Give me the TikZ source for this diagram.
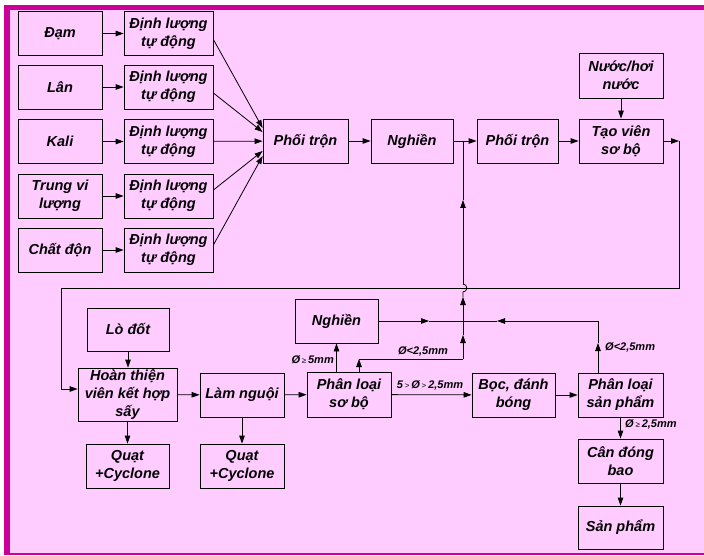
\documentclass[tikz,border=0pt]{standalone}
\usepackage{fontspec}
\setmainfont{Liberation Sans}
\usetikzlibrary{arrows.meta}

\definecolor{nenhong}{RGB}{255,204,255}
\definecolor{vienhong}{RGB}{204,0,153}
\newcommand{\nhoso}[1]{{\fontsize{8}{9}\selectfont\mdseries\upshape #1}}

\begin{document}
\begin{tikzpicture}[x=1pt,y=-1pt,
                box/.style={draw,line width=0.8pt,inner sep=0pt,align=center,
                    minimum width=84pt,minimum height=44pt,
                    font=\fontsize{14.5}{18}\selectfont\bfseries\itshape},
                lbl/.style={inner sep=0pt,font=\fontsize{11}{13}\selectfont\bfseries\itshape},
                arr/.style={line width=0.8pt,-{Triangle[length=8pt,width=5.5pt]}},
                line/.style={line width=0.8pt}
                ]
            % nen va khung
            \useasboundingbox (0,0) rectangle (704,556);
            \fill[white] (0,0) rectangle (704,556);
            \fill[nenhong] (4,5) rectangle (704,554);
            \fill[vienhong] (4,5) rectangle (704,10);
            \fill[vienhong] (4,5) rectangle (10,555);
            \fill[vienhong] (4,553) rectangle (704,555);

            % nguyen lieu
            \node[box] (dam) at (60,33.5) {Đạm};
            \node[box] (lan) at (60,87) {Lân};
            \node[box] (kali) at (60,141.5) {Kali};
            \node[box] (trungvi) at (60,196) {Trung vi\\lượng};
            \node[box] (chatdon) at (60,250) {Chất độn};

            \node[box,minimum width=89pt] (dl1) at (168.5,33.5) {Định lượng\\tự động};
            \node[box,minimum width=89pt] (dl2) at (168.5,87) {Định lượng\\tự động};
            \node[box,minimum width=89pt] (dl3) at (168.5,141.5) {Định lượng\\tự động};
            \node[box,minimum width=89pt] (dl4) at (168.5,196) {Định lượng\\tự động};
            \node[box,minimum width=89pt] (dl5) at (168.5,250) {Định lượng\\tự động};

            \node[box,minimum width=85pt] (phoi1) at (305.5,141) {Phối trộn};
            \node[box,minimum width=82pt] (nghien1) at (412,141) {Nghiền};
            \node[box,minimum width=81pt] (phoi2) at (517.5,141) {Phối trộn};
            \node[box] (taovien) at (621,141) {Tạo viên\\sơ bộ};
            \node[box,minimum height=45pt] (nuoc) at (621,75.5) {Nước/hơi\\nước};

            % hang duoi
            \node[box,minimum width=82pt,minimum height=43pt] (lodot) at (128,329.5) {Lò đốt};
            \node[box,minimum width=99pt,minimum height=53pt] (hoanthien) at (127.5,394.5) {Hoàn thiện\\viên kết hợp\\sấy};
            \node[box] (lamnguoi) at (242,395) {Làm nguội};
            \node[box,minimum width=83pt] (quat1) at (127.5,466) {Quạt\\+Cyclone};
            \node[box] (quat2) at (242,466) {Quạt\\+Cyclone};
            \node[box,minimum width=83pt] (nghien2) at (336.5,321) {Nghiền};
            \node[box,minimum height=45pt] (phanloai1) at (349,394.5) {Phân loại\\sơ bộ};
            \node[box,minimum width=83pt] (boc) at (513.5,395) {Bọc, đánh\\bóng};
            \node[box,minimum width=85pt] (phanloai2) at (620.5,395) {Phân loại\\sản phẩm};
            \node[box,minimum width=85pt] (can) at (620.5,461) {Cân đóng\\bao};
            \node[box,minimum width=85pt,minimum height=43pt] (sanpham) at (620.5,527.5) {Sản phẩm};

            % diem noi
            \coordinate (j1) at (463,141);
            \coordinate (j2) at (463,321);
            \coordinate (c1) at (679,141);
            \coordinate (c2) at (679,288);
            \coordinate (c3) at (61,288);
            \coordinate (c4) at (61,389);
            \coordinate (k1) at (359,359);
            \coordinate (k2) at (463,359);
            \coordinate (k3) at (598,321);
            \coordinate (m1) at (463,335);
            \coordinate (m2) at (463,297);
            \coordinate (jb) at (463,292);
            \coordinate (jt) at (463,284);
            \coordinate (m3) at (463,200);
            \coordinate (m4) at (598,343);
            \coordinate (n1) at (429,321);
            \coordinate (n2) at (497,321);

            \draw[arr] (dam) -- (dl1);
            \draw[arr] (lan) -- (dl2);
            \draw[arr] (kali) -- (dl3);
            \draw[arr] (trungvi) -- (dl4);
            \draw[arr] (chatdon) -- (dl5);

            \draw[arr] ([yshift=-6pt]dl1.east) -- ([yshift=13pt]phoi1.west);
            \draw[arr] ([yshift=-6pt]dl2.east) -- ([yshift=9pt]phoi1.west);
            \draw[arr] (dl3) -- (phoi1);
            \draw[arr] ([yshift=6pt]dl4.east) -- ([yshift=-10pt]phoi1.west);
            \draw[arr] ([yshift=5pt]dl5.east) -- ([yshift=-15pt]phoi1.west);

            \draw[arr] (phoi1) -- (nghien1);
            \draw[line] (nghien1) -- (j1);
            \draw[arr] (j1) -- (phoi2);
            \draw[arr] (phoi2) -- (taovien);
            \draw[arr] (nuoc) -- (taovien);
            \draw[arr] (taovien) -- (c1);
            \draw[line] (c1) -- (c2) -- (c3) -- (c4);
            \draw[arr] (c4) -- (c4 -| hoanthien.west);

            \draw[arr] (lodot.south) -- (lodot.south |- hoanthien.north);
            \draw[arr] (hoanthien) -- (lamnguoi);
            \draw[arr] (hoanthien) -- (quat1);
            \draw[arr] (lamnguoi) -- (quat2);
            \draw[arr] (lamnguoi) -- (phanloai1);
            \draw[arr] (phanloai1) -- (boc);
            \draw[arr] (boc) -- (phanloai2);
            \draw[arr] (phanloai2) -- (can);
            \draw[arr] (can) -- (sanpham);

            \draw[arr] (phanloai1.north -| nghien2) -- (nghien2);
            \draw[arr] ([xshift=10pt]phanloai1.north) -- (k1);
            \draw[line] (k1) -- (k2);
            \draw[arr] (k2) -- (m1);
            \draw[line] (m1) -- (j2);
            \draw[arr] (j2) -- (m2);
            \draw[line] (m2) -- (jb) .. controls +(5,0) and +(5,0) .. (jt);
            \draw[arr] (jt) -- (m3);
            \draw[line] (m3) -- (j1);

            \draw[arr] (nghien2) -- (n1);
            \draw[line] (n1) -- (j2);
            \draw[arr] (phanloai2.north -| k3) -- (m4);
            \draw[line] (m4) -- (k3);
            \draw[arr] (k3) -- (n2);
            \draw[line] (n2) -- (j2);

            % nhan
            \node[lbl,anchor=east] (lb1) at (334,360) {Ø\,\nhoso{≥}\,5mm};
            \node[lbl] (lb2) at (423,351) {Ø<2,5mm};
            \node[lbl] (lb3) at (430,385) {5\,\nhoso{>}\,Ø\,\nhoso{>}\,2,5mm};
            \node[lbl,anchor=west] (lb4) at (605,347) {Ø<2,5mm};
            \node[lbl,anchor=west] (lb5) at (625,424) {Ø\,\nhoso{≥}\,2,5mm};

            \end{tikzpicture}
\end{document}
